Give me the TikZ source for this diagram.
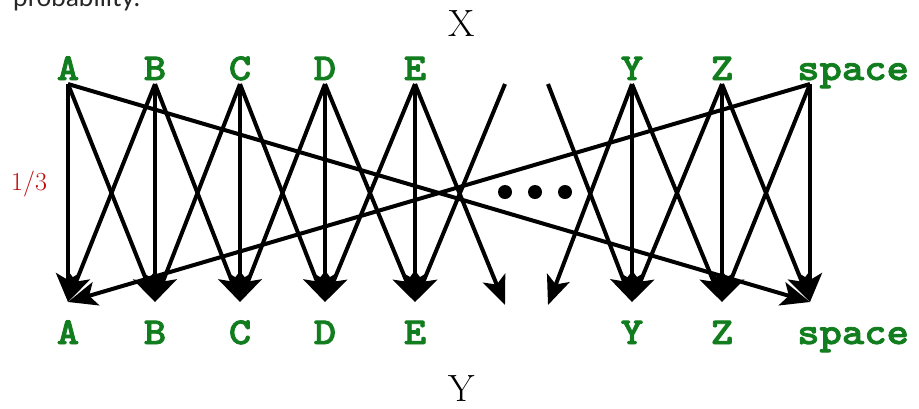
\documentclass[tikz,border=0pt]{standalone}
\usepackage{fontspec}
\newfontfamily\symfont{lmmonolt10-bold}[Extension=.otf, FakeStretch=1.12, FakeBold=2]
\newfontfamily\notefont{Lato}
\usetikzlibrary{arrows.meta}
\definecolor{symgreen}{RGB}{18,125,30}
\definecolor{probred}{RGB}{190,10,10}
\tikzset{
  channel/.style={
    line width=4pt,
    -{Stealth[length=29pt,width=24pt,inset=7pt]}
  },
  symbol/.style={
    font=\symfont\fontsize{38}{38}\selectfont,
    text=symgreen,
    inner sep=0pt
  },
  axis-name/.style={
    font=\fontsize{38}{38}\selectfont,
    inner sep=0pt,
    anchor=base
  },
  dot/.style={circle, fill=black, minimum size=14pt, inner sep=0pt}
}

\begin{document}
\begin{tikzpicture}[x=1pt, y=-1pt]
  \useasboundingbox (0,0) rectangle (919,408);
  \clip (0,0) rectangle (919,408);
  % cut-off caption line above
  \node[font=\notefont\fontsize{26}{26}\selectfont, text=black!85,
    inner sep=0pt, anchor=base west] (caption) at (13,6) {probability.};
  % input and output symbols
  \foreach \n/\x in {A/68,B/155,C/240,D/325,E/415,Y/632,Z/722} {
    \coordinate (s\n) at (\x,84);
    \coordinate (e\n) at (\x,302);
    \node[symbol, anchor=base] (in\n) at (\x,80) {\n};
    \node[symbol, anchor=base] (out\n) at (\x,344) {\n};
  }
  \coordinate (sspace) at (810,84);
  \coordinate (espace) at (810,302);
  \node[symbol, anchor=base west] (inspace) at (797,80) {space};
  \node[symbol, anchor=base west] (outspace) at (797,344) {space};
  % loose ends beside the gap
  \coordinate (sgapl) at (505,84);
  \coordinate (egapl) at (505,305);
  \coordinate (sgapr) at (548,84);
  \coordinate (egapr) at (548,305);
  \node[axis-name] (xname) at (462,36) {X};
  \node[axis-name] (yname) at (462,401) {Y};
  \node[font=\fontsize{26}{26}\selectfont, text=probred, inner sep=0pt,
    anchor=base west] (prob) at (11,190) {1/3};
  % transitions
  \foreach \n in {A,B,C,D,E,Y,Z,space}
    \draw[channel] (s\n) -- (e\n);
  \foreach \a/\b in {A/B,B/C,C/D,D/E,Y/Z,Z/space} {
    \draw[channel] (s\a) -- (e\b);
    \draw[channel] (s\b) -- (e\a);
  }
  \draw[channel] (sA) -- (espace);
  \draw[channel] (sspace) -- (eA);
  \draw[channel] (sE) -- (egapl);
  \draw[channel] (sgapl) -- (eE);
  \draw[channel] (sgapr) -- (eY);
  \draw[channel] (sY) -- (egapr);
  \foreach \x [count=\k] in {505,535,565}
    \node[dot] (dot\k) at (\x,192) {};
\end{tikzpicture}
\end{document}
